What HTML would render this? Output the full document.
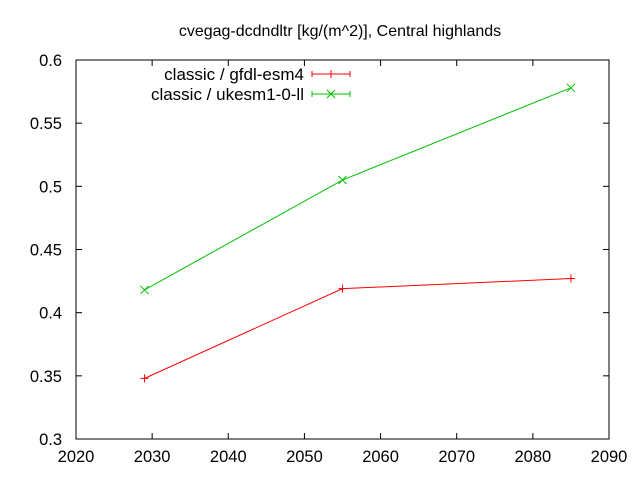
<!DOCTYPE html>
<html><head><meta charset="utf-8"><style>
body{margin:0;background:#fff}
svg text{font-family:"Liberation Sans",sans-serif;font-size:16.5px;fill:#000}
</style></head><body>
<svg id="chart" width="640" height="480">
<text x="340" y="36" text-anchor="middle" style="font-size:16px">cvegag-dcdndltr [kg/(m^2)], Central highlands</text>
<g id="axes"></g>
<g id="series"></g>
</svg>
<script>
const years=[2029,2055,2085];
const gfdl=[0.348,0.419,0.427];
const ukesm=[0.418,0.505,0.578];
const xTicks=[2020,2030,2040,2050,2060,2070,2080,2090];
const yTicks=[0.3,0.35,0.4,0.45,0.5,0.55,0.6];
const yLabels=["0.3","0.35","0.4","0.45","0.5","0.55","0.6"];
const L=76,R=609,T=60,B=439;
const X=v=>L+(v-2020)/70*(R-L);
const Y=v=>B-(v-0.3)/0.3*(B-T);
const NS="http://www.w3.org/2000/svg";
function mk(p,tag,a){const e=document.createElementNS(NS,tag);for(const k in a)e.setAttribute(k,a[k]);p.appendChild(e);return e;}
const ax=document.getElementById('axes');
const fr=mk(ax,'rect',{x:L,y:T,width:R-L,height:B-T,fill:'none',stroke:'#000','stroke-width':1});


xTicks.forEach(t=>{const x=X(t);
mk(ax,'line',{x1:x,x2:x,y1:B,y2:B-6,stroke:'#000'});mk(ax,'line',{x1:x,x2:x,y1:T,y2:T+6,stroke:'#000'});
const tx=mk(ax,'text',{x:x,y:B+23,'text-anchor':'middle'});tx.textContent=t;

});
yTicks.forEach((t,i)=>{const y=Y(t);
mk(ax,'line',{x1:L,x2:L+6,y1:y,y2:y,stroke:'#000'});mk(ax,'line',{x1:R,x2:R-6,y1:y,y2:y,stroke:'#000'});
const tx=mk(ax,'text',{x:L-14,y:y+6,'text-anchor':'end'});tx.textContent=yLabels[i];

});
const sg=document.getElementById('series');
function series(vals,color,name,label,ly,cross){
const g=mk(sg,'g',{});


mk(g,'polyline',{points:years.map((y,i)=>X(y)+','+Y(vals[i])).join(' '),fill:'none',stroke:color,'stroke-width':1});
years.forEach((yr,i)=>{const x=X(yr),y=Y(vals[i]);
if(cross){mk(g,'path',{d:`M${x-4},${y-4}L${x+4},${y+4}M${x-4},${y+4}L${x+4},${y-4}`,stroke:color});}
else{mk(g,'path',{d:`M${x-4},${y}H${x+4}M${x},${y-4}V${y+4}`,stroke:color});}});
const lt=mk(g,'text',{x:304,y:ly+6,'text-anchor':'end',style:'font-size:17px'});lt.textContent=label;


mk(g,'path',{d:`M312,${ly}H350M312,${ly-3}V${ly+3}M350,${ly-3}V${ly+3}`,stroke:color});
const cx=331;
if(cross)mk(g,'path',{d:`M${cx-4},${ly-4}L${cx+4},${ly+4}M${cx-4},${ly+4}L${cx+4},${ly-4}`,stroke:color});
else mk(g,'path',{d:`M${cx},${ly-4}V${ly+4}`,stroke:color});
}
series(gfdl,'#ff0000','series-gfdl-esm4','classic / gfdl-esm4',74,false);
series(ukesm,'#00c000','series-ukesm1-0-ll','classic / ukesm1-0-ll',94,true);
</script>
</body></html>
